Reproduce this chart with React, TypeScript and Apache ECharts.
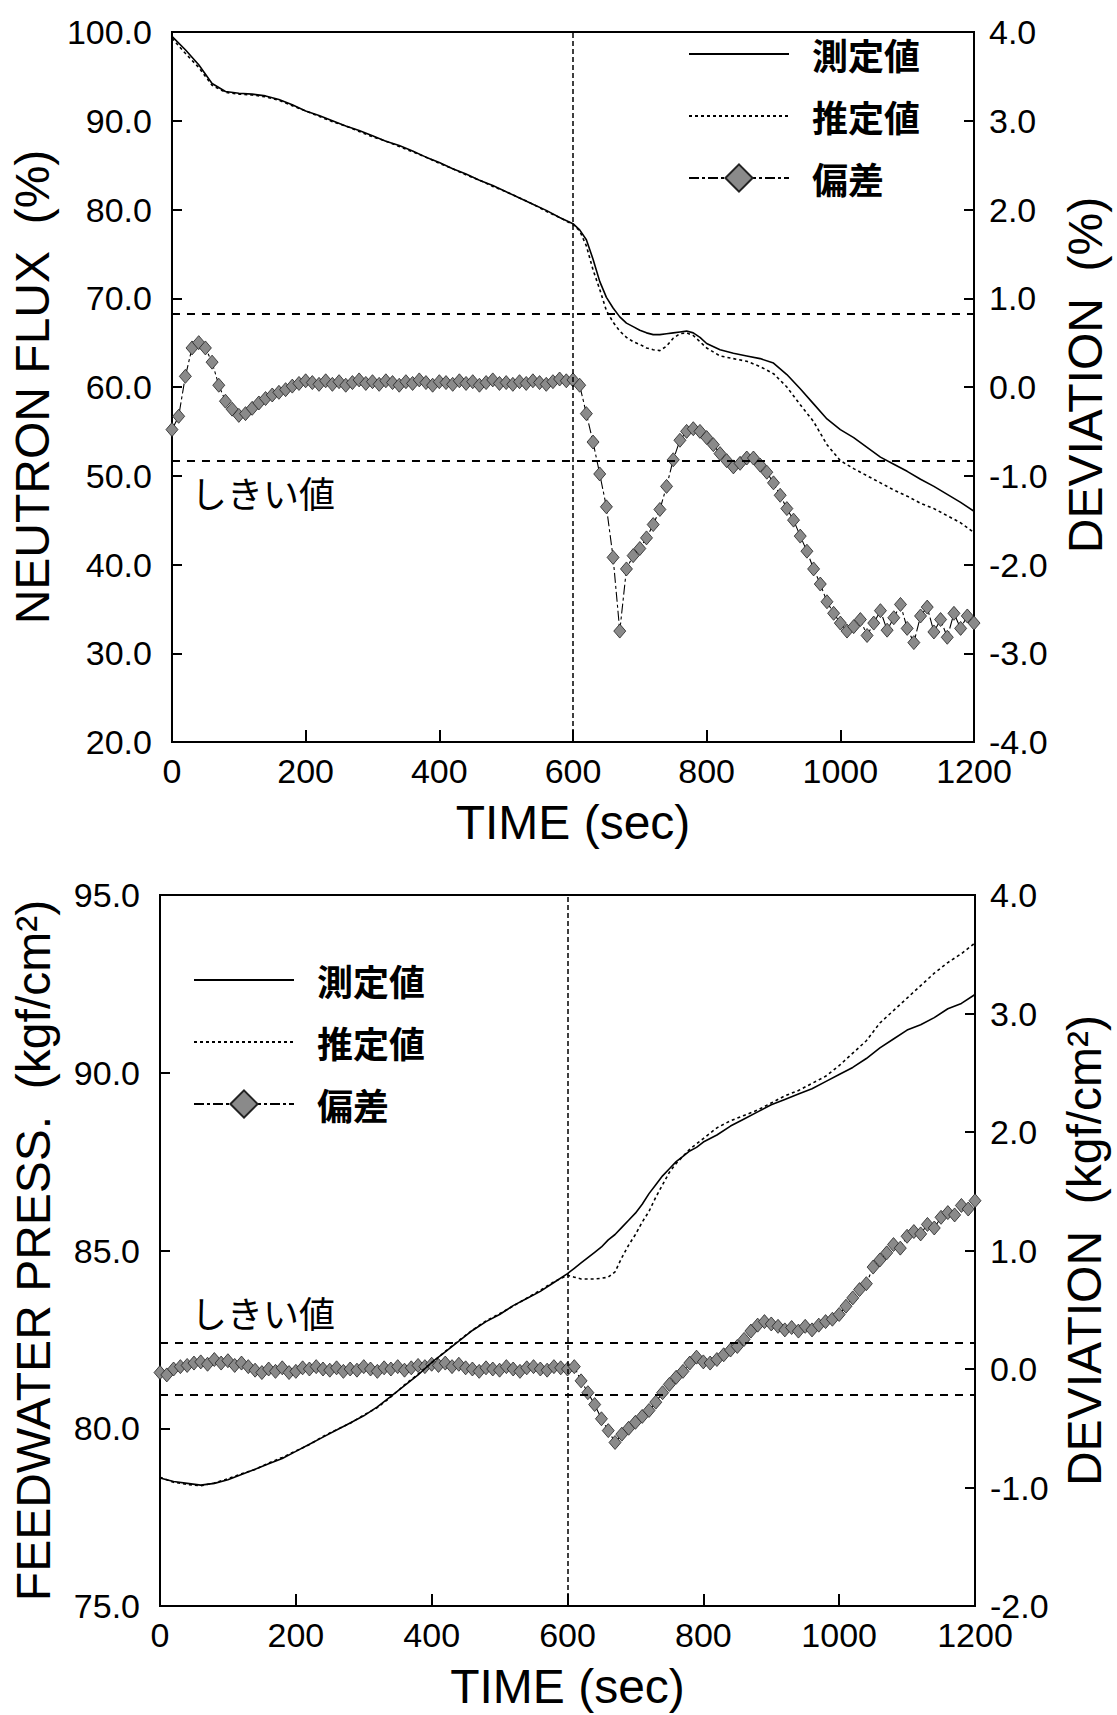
import React, { useEffect, useRef } from "react";
import * as echarts from "echarts";

const LATIN = "'Liberation Sans', Arial, Helvetica, sans-serif";
const CJK = "'Noto Sans CJK JP', 'Noto Sans CJK SC', sans-serif";

const NAME_MEASURED = "測定値";
const NAME_ESTIMATED = "推定値";
const NAME_DEVIATION = "偏差";
const THRESHOLD_TEXT = "しきい値";

// Sample times (sec) for the measured / estimated traces
const lineTime = [
  0, 20, 40, 60, 80, 100, 120, 140, 160, 180, 200, 220, 240, 260, 280, 300, 320, 340, 360, 380, 400, 420, 440, 460, 480, 500,
  520, 540, 560, 580, 600,
  610, 620, 630, 640, 650, 660, 670, 680, 690, 700, 710, 720, 730, 740, 750, 760, 770, 780, 790, 800,
  820, 840, 860, 880, 900, 920, 940, 960, 980, 1000, 1020, 1040, 1060, 1080, 1100, 1120, 1140, 1160, 1180, 1200,
];

// Sample times (sec) for the deviation traces
const devTime = [
  0, 10, 20, 30, 40, 50, 60, 70, 80, 90,
  100, 110, 120, 130, 140, 150, 160, 170, 180, 190,
  200, 210, 220, 230, 240, 250, 260, 270, 280, 290,
  300, 310, 320, 330, 340, 350, 360, 370, 380, 390,
  400, 410, 420, 430, 440, 450, 460, 470, 480, 490,
  500, 510, 520, 530, 540, 550, 560, 570, 580, 590,
  600, 610, 620, 630, 640, 650, 660, 670, 680, 690,
  700, 710, 720, 730, 740, 750, 760, 770, 780, 790,
  800, 810, 820, 830, 840, 850, 860, 870, 880, 890,
  900, 910, 920, 930, 940, 950, 960, 970, 980, 990,
  1000, 1010, 1020, 1030, 1040, 1050, 1060, 1070, 1080, 1090,
  1100, 1110, 1120, 1130, 1140, 1150, 1160, 1170, 1180, 1190,
  1200,
];

// Neutron flux (%)
const fluxMeasured = [
  99.5, 98.0, 96.3, 94.2, 93.3, 93.1, 93.0, 92.8, 92.4, 91.8, 91.1, 90.6, 90.0, 89.4, 88.9, 88.3, 87.7, 87.2, 86.6, 85.9,
  85.3, 84.6, 84.0, 83.3, 82.7, 82.0, 81.3, 80.6, 79.9, 79.1, 78.4,
  77.7, 76.6, 74.4, 71.9, 70.1, 68.9, 67.9, 67.2, 66.8, 66.4, 66.1, 65.9, 65.9, 66.0, 66.1, 66.2, 66.3, 66.1, 65.6, 64.9,
  64.2, 63.8, 63.5, 63.2, 62.7, 61.4, 59.8, 58.1, 56.4, 55.2, 54.3, 53.2, 52.1, 51.3, 50.5, 49.6, 48.8, 47.9, 47.0, 46.0,
];

const fluxEstimated = [
  99.3, 97.6, 96.0, 94.0, 93.2, 93.0, 92.9, 92.7, 92.3, 91.7, 91.1, 90.5, 89.9, 89.4, 88.8, 88.2, 87.7, 87.1, 86.5, 85.9,
  85.2, 84.6, 83.9, 83.3, 82.6, 82.0, 81.3, 80.6, 79.8, 79.1, 78.3,
  77.6, 75.9, 73.2, 71.0, 68.6, 67.3, 66.3, 65.6, 65.1, 64.8, 64.4, 64.2, 64.1, 64.6, 65.5, 66.0, 66.1, 65.8, 65.1, 64.4,
  63.5, 63.2, 62.9, 62.3, 61.5, 60.0, 58.0, 56.1, 53.5, 51.7, 50.8, 50.0, 49.2, 48.4, 47.7, 46.9, 46.3, 45.5, 44.7, 43.6,
];

// Neutron flux deviation (%)
const fluxDeviation = [
  -0.48, -0.33, 0.12, 0.44, 0.5, 0.44, 0.28, 0.02, -0.16, -0.25,
  -0.32, -0.3, -0.24, -0.18, -0.13, -0.09, -0.06, -0.03, 0.01, 0.04,
  0.07, 0.05, 0.03, 0.07, 0.03, 0.06, 0.02, 0.05, 0.08, 0.04,
  0.06, 0.03, 0.07, 0.05, 0.02, 0.06, 0.04, 0.08, 0.05, 0.02,
  0.06, 0.05, 0.03, 0.07, 0.04, 0.06, 0.02, 0.05, 0.08, 0.04,
  0.05, 0.03, 0.06, 0.04, 0.07, 0.05, 0.03, 0.06, 0.09, 0.07,
  0.08, 0.02, -0.3, -0.62, -0.98, -1.35, -1.92, -2.75, -2.05, -1.9,
  -1.82, -1.7, -1.55, -1.38, -1.12, -0.82, -0.6, -0.5, -0.47, -0.5,
  -0.57, -0.65, -0.75, -0.83, -0.9, -0.86, -0.8, -0.8, -0.88, -0.96,
  -1.08, -1.22, -1.37, -1.5, -1.68, -1.85, -2.05, -2.22, -2.42, -2.55,
  -2.66, -2.75, -2.7, -2.62, -2.8, -2.66, -2.52, -2.74, -2.6, -2.45,
  -2.72, -2.88, -2.58, -2.48, -2.76, -2.62, -2.82, -2.55, -2.72, -2.58,
  -2.66,
];

// Feedwater pressure (kgf/cm2)
const pressMeasured = [
  78.6, 78.5, 78.45, 78.4, 78.45, 78.55, 78.7, 78.85, 79.0, 79.15, 79.35, 79.55, 79.75, 79.95, 80.15, 80.35, 80.6, 80.9,
  81.2, 81.5, 81.85, 82.15, 82.45, 82.75, 83.0, 83.2, 83.45, 83.65, 83.85, 84.1, 84.35,
  84.5, 84.65, 84.8, 84.95, 85.1, 85.3, 85.45, 85.65, 85.85, 86.05, 86.3, 86.6, 86.85, 87.1, 87.3, 87.5, 87.65, 87.8, 87.9, 88.05,
  88.25, 88.5, 88.7, 88.9, 89.1, 89.25, 89.4, 89.55, 89.75, 89.95, 90.15, 90.4, 90.7, 90.95, 91.2, 91.35, 91.55, 91.8, 91.95, 92.2,
];

const pressEstimated = [
  78.62, 78.48, 78.42, 78.38, 78.46, 78.58, 78.72, 78.84, 79.02, 79.18, 79.36, 79.54, 79.77, 79.96, 80.14, 80.37, 80.58, 80.88,
  81.22, 81.52, 81.84, 82.16, 82.47, 82.76, 83.02, 83.22, 83.44, 83.66, 83.88, 84.12, 84.3,
  84.25, 84.2, 84.2, 84.2, 84.22, 84.25, 84.4, 84.8, 85.15, 85.45, 85.8, 86.1, 86.5, 86.85, 87.2, 87.45, 87.65, 87.85, 88.0, 88.15,
  88.45, 88.65, 88.8, 88.95, 89.15, 89.35, 89.5, 89.7, 89.9, 90.2, 90.55, 90.9, 91.4, 91.75, 92.1, 92.45, 92.8, 93.1, 93.35, 93.65,
];

// Feedwater pressure deviation (kgf/cm2)
const pressDeviation = [
  -0.03, -0.05, 0.0, 0.02, 0.03, 0.05, 0.06, 0.04, 0.08, 0.05,
  0.07, 0.03, 0.05, 0.02, -0.01, -0.03, 0.0, -0.02, 0.01, -0.03,
  -0.02, 0.01, 0.0, 0.02, 0.0, -0.01, 0.01, -0.02, 0.0, -0.01,
  0.02, 0.0, -0.02, 0.01, 0.0, 0.02, -0.01, 0.01, 0.03, 0.02,
  0.04, 0.03, 0.05, 0.02, 0.04, 0.01, 0.0, -0.02, 0.01, 0.0,
  -0.01, 0.02, 0.0, -0.02, 0.01, 0.02, 0.0, -0.01, 0.02, 0.01,
  0.0, 0.02, -0.1, -0.2, -0.3, -0.42, -0.52, -0.62, -0.55, -0.5,
  -0.45, -0.4, -0.35, -0.28, -0.2, -0.13, -0.07, -0.02, 0.05, 0.1,
  0.06, 0.05, 0.08, 0.12, 0.16, 0.19, 0.25, 0.32, 0.37, 0.4,
  0.38, 0.36, 0.33, 0.35, 0.32, 0.36, 0.33, 0.37, 0.4, 0.42,
  0.46, 0.53, 0.6, 0.67, 0.72, 0.86, 0.92, 0.98, 1.05, 1.02,
  1.12, 1.16, 1.14, 1.22, 1.19, 1.28, 1.32, 1.3, 1.38, 1.35,
  1.42,
];

// Alarm thresholds (± deviation) and the time the transient starts
const fluxThreshold = 0.83;
const pressThreshold = 0.22;
const eventTime = 600;

// Axis ranges
const timeAxis = { min: 0, max: 1200, interval: 200 };
const fluxAxis = { min: 20, max: 100, interval: 10 };
const fluxDevAxis = { min: -4, max: 4, interval: 1 };
const pressAxis = { min: 75, max: 95, interval: 5 };
const pressDevAxis = { min: -2, max: 4, interval: 1 };

const BLACK = "#000";

const pairs = (xs: number[], ys: number[]) => xs.map((x, i) => [x, ys[i]]);
const oneDecimal = (v: number) => (Math.abs(v) < 1e-9 ? "0.0" : v.toFixed(1));

function xAxisFor(gridIndex: number) {
  return {
    type: "value",
    gridIndex,
    ...timeAxis,
    name: "TIME (sec)",
    nameLocation: "middle",
    nameGap: 56,
    nameTextStyle: { fontFamily: LATIN, fontSize: 48, color: BLACK },
    axisLine: { show: true, onZero: false, lineStyle: { color: BLACK, width: 2 } },
    axisTick: { show: true, inside: true, length: 12, lineStyle: { color: BLACK, width: 2 } },
    axisLabel: {
      fontFamily: LATIN,
      fontSize: 34,
      color: BLACK,
      margin: 12,
      formatter: (v: number) => String(v),
    },
    splitLine: { show: false },
  };
}

function yAxisFor(gridIndex: number, range: any, name: string, side: "left" | "right", nameGap: number, namePad: number[]) {
  return {
    type: "value",
    gridIndex,
    position: side,
    ...range,
    name,
    nameLocation: "middle",
    nameGap,
    nameTextStyle: { fontFamily: LATIN, fontSize: 48, color: BLACK, padding: namePad },
    axisLine: { show: true, onZero: false, lineStyle: { color: BLACK, width: 2 } },
    axisTick: { show: true, inside: true, length: 10, lineStyle: { color: BLACK, width: 2 } },
    axisLabel: {
      fontFamily: LATIN,
      fontSize: 34,
      color: BLACK,
      margin: side === "left" ? 20 : 15,
      padding: [0, 0, 16, 0],
      formatter: (v: number) => oneDecimal(v),
    },
    splitLine: { show: false },
  };
}

const measuredStyle = { color: BLACK, width: 1.6, type: "solid" };
const estimatedStyle = { color: BLACK, width: 1.6, type: [3, 3] };
const deviationLine = { color: BLACK, width: 1.1, type: [10, 3, 3, 3] };
const deviationItem = { color: "#8a8a8a", borderColor: "#222", borderWidth: 0.8 };

function panelSeries(
  axisBase: number,
  gridIndex: number,
  measured: number[],
  estimated: number[],
  deviation: number[],
  threshold: number
) {
  return [
    {
      name: NAME_DEVIATION,
      type: "line",
      xAxisIndex: gridIndex,
      yAxisIndex: axisBase + 1,
      data: pairs(devTime, deviation),
      symbol: "diamond",
      symbolSize: [12, 14],
      showAllSymbol: true,
      lineStyle: deviationLine,
      itemStyle: deviationItem,
      z: 2,
      markLine: {
        silent: true,
        symbol: "none",
        label: { show: false },
        lineStyle: { color: BLACK, width: 2, type: [8, 7] },
        data: [{ yAxis: threshold }, { yAxis: -threshold }],
      },
    },
    {
      name: NAME_MEASURED,
      type: "line",
      xAxisIndex: gridIndex,
      yAxisIndex: axisBase,
      data: pairs(lineTime, measured),
      symbol: "none",
      lineStyle: measuredStyle,
      itemStyle: { color: BLACK },
      z: 3,
      markLine: {
        silent: true,
        symbol: "none",
        label: { show: false },
        lineStyle: { color: BLACK, width: 1.5, type: [5, 3] },
        data: [{ xAxis: eventTime }],
      },
    },
    {
      name: NAME_ESTIMATED,
      type: "line",
      xAxisIndex: gridIndex,
      yAxisIndex: axisBase,
      data: pairs(lineTime, estimated),
      symbol: "none",
      lineStyle: estimatedStyle,
      itemStyle: { color: BLACK },
      z: 3,
    },
  ];
}

function legendAt(left: number, top: number) {
  const hidden = { color: "rgba(0,0,0,0)", borderColor: "rgba(0,0,0,0)" };
  return {
    left,
    top,
    orient: "vertical",
    selectedMode: false,
    itemWidth: 100,
    itemHeight: 34,
    itemGap: 26,
    textStyle: { fontFamily: CJK, fontSize: 36, fontWeight: "bold", color: BLACK, padding: [0, 0, 0, 18] },
    data: [
      { name: NAME_MEASURED, itemStyle: hidden },
      { name: NAME_ESTIMATED, itemStyle: hidden },
      { name: NAME_DEVIATION },
    ],
  };
}

function buildOption() {
  return {
    animation: false,
    backgroundColor: "#fff",
    grid: [
      { left: 160, top: 32, width: 815, height: 710, show: true, borderColor: BLACK, borderWidth: 2, backgroundColor: "transparent" },
      { left: 160, top: 895, width: 815, height: 711, show: true, borderColor: BLACK, borderWidth: 2, backgroundColor: "transparent" },
    ],
    xAxis: [xAxisFor(0), xAxisFor(1)],
    yAxis: [
      yAxisFor(0, fluxAxis, "NEUTRON FLUX  (%)", "left", 103, [0, 0, 0, 0]),
      yAxisFor(0, fluxDevAxis, "DEVIATION  (%)", "right", 87, [0, 0, 0, 24]),
      yAxisFor(1, pressAxis, "FEEDWATER PRESS.  (kgf/cm²)", "left", 103, [0, 0, 0, 0]),
      yAxisFor(1, pressDevAxis, "DEVIATION  (kgf/cm²)", "right", 85, [0, 0, 0, 0]),
    ],
    legend: [legendAt(683, 31), legendAt(188, 957)],
    graphic: [
      {
        type: "text",
        left: 191,
        top: 474,
        silent: true,
        style: { text: THRESHOLD_TEXT, fontFamily: CJK, fontSize: 36, fill: BLACK },
      },
      {
        type: "text",
        left: 191,
        top: 1294,
        silent: true,
        style: { text: THRESHOLD_TEXT, fontFamily: CJK, fontSize: 36, fill: BLACK },
      },
    ],
    series: [
      ...panelSeries(0, 0, fluxMeasured, fluxEstimated, fluxDeviation, fluxThreshold),
      ...panelSeries(2, 1, pressMeasured, pressEstimated, pressDeviation, pressThreshold),
    ],
  };
}

export default function App() {
  const ref = useRef<HTMLDivElement>(null);

  useEffect(() => {
    if (!ref.current) return;
    const chart = echarts.init(ref.current, undefined, { renderer: "svg" });
    chart.setOption(buildOption() as any);
    return () => chart.dispose();
  }, []);

  return (
    <div
      ref={ref}
      style={{ position: "absolute", left: 0, top: 0, width: 1117, height: 1715, background: "#fff" }}
    />
  );
}
